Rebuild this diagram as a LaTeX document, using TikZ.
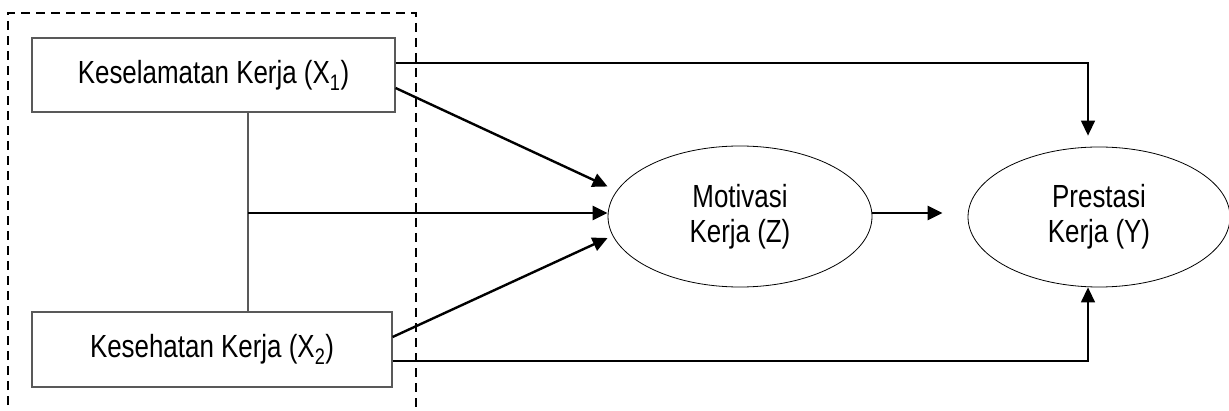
\documentclass[tikz,border=0pt]{standalone}
\usepackage{fontspec}
\setmainfont{Liberation Sans}[FakeStretch=0.81]
\usetikzlibrary{arrows.meta}
\usetikzlibrary{shapes.geometric}

\begin{document}
\begin{tikzpicture}[
	x=1pt, y=1pt,
	font=\fontsize{32}{35}\selectfont,
	box/.style={draw=black!65, line width=1.2pt, inner sep=0pt},
	latent/.style={draw, ellipse, line width=0.8pt, inner sep=0pt, minimum width=264pt, minimum height=141pt, align=center},
	arrow/.style={line width=2.4pt, -{Triangle[length=15pt, width=14pt]}},
	direct/.style={line width=1.4pt, -{Triangle[length=15pt, width=14pt]}},
	link/.style={draw=black!65, line width=1.2pt},
	frame/.style={line width=2pt, dash pattern=on 9pt off 6pt},
]
	\useasboundingbox (0,0) rectangle (1229,410);

	% dashed group round the two X boxes
	\draw[frame] (8,-10) |- (416,397) -- (416,-10);

	\node (x1) [box, minimum width=363pt, minimum height=74pt] at (213.5,335) {Keselamatan Kerja (X\textsubscript{1})};
	\node (x2) [box, minimum width=360pt, minimum height=75pt] at (212,60.5) {Kesehatan Kerja (X\textsubscript{2})};
	\node (z) [latent] at (740,193.5) {Motivasi\\Kerja (Z)};
	\node (y) [latent, minimum width=262pt, minimum height=140pt] at (1099,193) {Prestasi\\Kerja (Y)};
	\coordinate (mid) at (248,197);
	\coordinate (zy) at ([xshift=-25pt]y.west);

	\draw[link] (mid |- x1.south) -- (mid |- x2.north);
	\draw[arrow] (mid) -- (mid -| z.west);
	\draw[arrow] ([yshift=-13pt]x1.east) -- ([yshift=30pt]z.west);
	\draw[arrow] ([yshift=12.5pt]x2.east) -- ([yshift=-21.5pt]z.west);
	\draw[arrow] (z.east |- mid) -- (zy |- mid);
	\draw[direct] ([yshift=12pt]x1.east) -| ([shift={(-11pt,11pt)}]y.north);
	\draw[direct] ([yshift=-11.5pt]x2.east) -| ([xshift=-11pt]y.south);
\end{tikzpicture}
\end{document}
